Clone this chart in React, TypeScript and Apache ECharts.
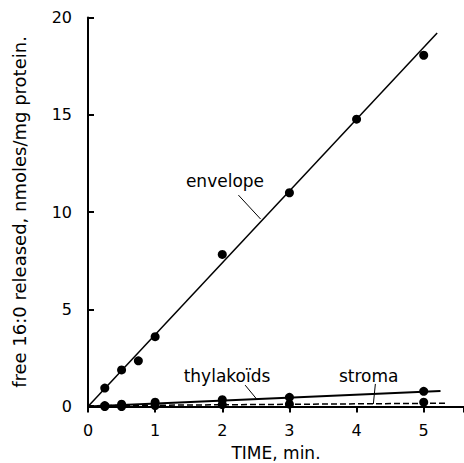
import React, { useEffect, useRef } from "react";
import * as echarts from "echarts";

// Time points (min) and measured free 16:0 (nmoles/mg protein)
const envelopeTime = [0.25, 0.5, 0.75, 1, 2, 3, 4, 5];
const envelopeValues = [0.95, 1.88, 2.35, 3.59, 7.82, 10.99, 14.77, 18.06];

const thylakoidTime = [0.25, 0.5, 1, 2, 3, 5];
const thylakoidValues = [0.05, 0.12, 0.22, 0.35, 0.47, 0.78];

const stromaTime = [0.25, 0.5, 1, 2, 3, 5];
const stromaValues = [0.0, 0.0, 0.05, 0.1, 0.12, 0.22];

// Fitted regression lines: [start, end]
const envelopeFit = [[0, 0], [5.2, 19.2]];
const thylakoidFit = [[0, 0], [5.25, 0.8]];
const stromaFit = [[0, 0.04], [5.35, 0.17]];

const xTicks = [0, 1, 2, 3, 4, 5];
const yTicks = [0, 5, 10, 15, 20];

// Curve labels and their leader lines
const labelNames = ["envelope", "thylakoïds", "stroma"];
const labelPos = [[2.04, 11.6], [2.07, 1.55], [4.18, 1.55]];
const leaderLines = [
  [[2.24, 10.87], [2.57, 9.64]],
  [[2.34, 1.1], [2.51, 0.39]],
  [[4.28, 1.16], [4.25, 0.13]],
];

const FONT = "DejaVu Sans";

function pair(xs: number[], ys: number[]) {
  return xs.map((x, i) => [x, ys[i]]);
}

export default function App() {
  const ref = useRef<HTMLDivElement>(null);

  useEffect(() => {
    if (!ref.current) return;
    const chart = echarts.init(ref.current, undefined, { renderer: "svg" });

    const dots = (name: string, data: number[][]) => ({
      name,
      type: "scatter",
      data,
      symbol: "circle",
      symbolSize: 9,
      itemStyle: { color: "#000", opacity: 1 },
      z: 5,
    });
    const fit = (name: string, data: number[][], type: string, width: number) => ({
      name,
      type: "line",
      data,
      showSymbol: false,
      symbol: "none",
      lineStyle: { color: "#000", width, type },
      z: 4,
    });

    chart.setOption({
      animation: false,
      backgroundColor: "#fff",
      grid: {
        left: 88,
        right: 0,
        top: 17.5,
        bottom: 56.5,
        containLabel: false,
        outerBoundsMode: "none",
      },
      xAxis: [
        {
          type: "value",
          min: 0,
          max: 5.6,
          interval: 1,
          position: "bottom",
          name: "TIME, min.",
          nameLocation: "middle",
          nameGap: 38,
          nameTextStyle: { fontFamily: FONT, fontSize: 17, color: "#000" },
          axisLine: { show: true, onZero: false, lineStyle: { color: "#000", width: 2 } },
          axisTick: { show: false },
          splitLine: { show: false },
          axisLabel: {
            color: "#000",
            fontFamily: FONT,
            fontSize: 16,
            margin: 16,
            formatter: (v: number) => (xTicks.includes(v) ? String(v) : ""),
          },
        },
        {
          type: "value",
          min: 0,
          max: 5.6,
          interval: 1,
          position: "top",
          axisLine: { show: true, lineStyle: { color: "#000", width: 2 } },
          axisTick: { show: true, inside: true, length: 6, lineStyle: { color: "#000", width: 2 } },
          axisLabel: { show: false },
          splitLine: { show: false },
        },
      ],
      yAxis: {
        type: "value",
        min: 0,
        max: 20,
        interval: 5,
        name: "free 16:0 released, nmoles/mg protein.",
        nameLocation: "middle",
        nameGap: 60,
        nameTextStyle: { fontFamily: FONT, fontSize: 18, color: "#000" },
        axisLine: { show: true, lineStyle: { color: "#000", width: 2 } },
        axisTick: { show: true, inside: true, length: 6, lineStyle: { color: "#000", width: 2 } },
        splitLine: { show: false },
        axisLabel: {
          color: "#000",
          fontFamily: FONT,
          fontSize: 16,
          margin: 16,
          formatter: (v: number) => (yTicks.includes(v) ? String(v) : ""),
        },
      },
      series: [
        fit("envelope fit", envelopeFit, "solid", 1.5),
        fit("thylakoids fit", thylakoidFit, "solid", 2),
        fit("stroma fit", stromaFit, "dashed", 1.5),
        dots("envelope", pair(envelopeTime, envelopeValues)),
        dots("thylakoïds", pair(thylakoidTime, thylakoidValues)),
        dots("stroma", pair(stromaTime, stromaValues)),
        ...leaderLines.map((seg, i) => fit("leader " + i, seg, "solid", 1)),
        {
          name: "labels",
          type: "scatter",
          symbolSize: 0,
          itemStyle: { opacity: 1 },
          data: labelPos.map((p, i) => ({ value: p, name: labelNames[i] })),
          label: {
            show: true,
            position: "inside",
            formatter: (p: any) => p.name,
            fontFamily: FONT,
            fontSize: 17,
            color: "#000",
          },
          z: 6,
        },
      ],
    });

    return () => chart.dispose();
  }, []);

  return (
    <div
      ref={ref}
      style={{ position: "fixed", left: 0, top: 0, width: 464, height: 463, background: "#fff" }}
    />
  );
}
